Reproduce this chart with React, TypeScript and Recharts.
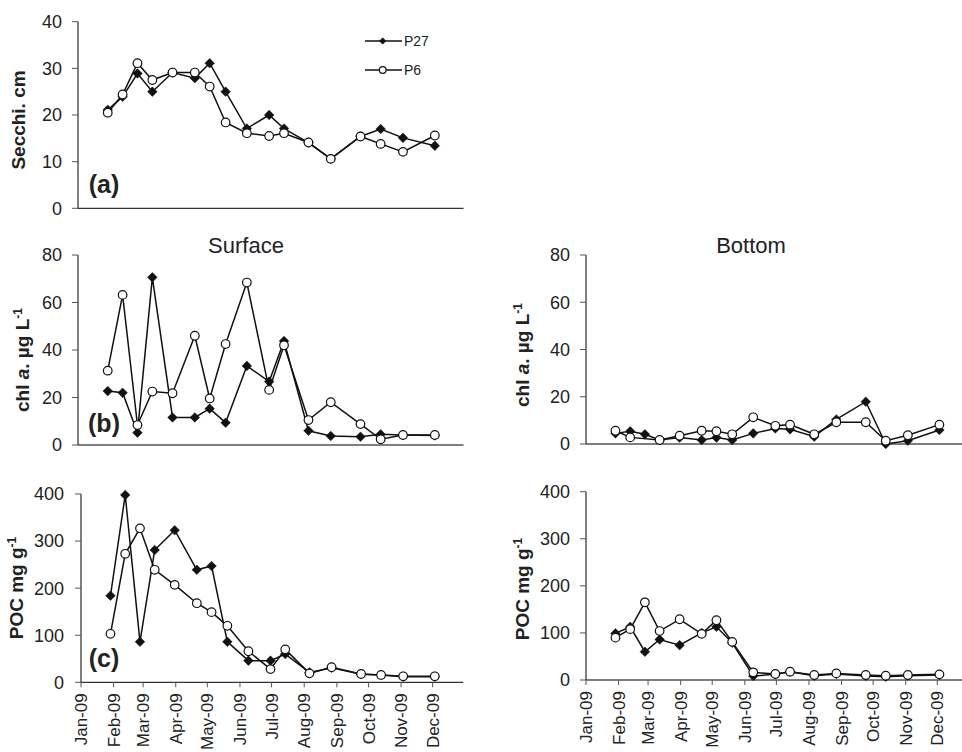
import React from "react";
import { LineChart, Line, XAxis, YAxis, Legend } from "recharts";

// sampling dates as day-of-year 2009 (0 = 1 Jan)
const SAMPLE_DAYS = [28, 42, 56, 70, 89, 110, 124, 139, 159, 180, 194, 217, 238, 266, 285, 306, 336];
const MONTH_TICKS = [0, 31, 59, 90, 120, 151, 181, 212, 243, 273, 304, 334];
const MONTH_LABELS = [
  "Jan-09", "Feb-09", "Mar-09", "Apr-09", "May-09", "Jun-09",
  "Jul-09", "Aug-09", "Sep-09", "Oct-09", "Nov-09", "Dec-09",
];

const SECCHI_TICKS = [0, 10, 20, 30, 40];
const CHL_TICKS = [0, 20, 40, 60, 80];
const POC_TICKS = [0, 100, 200, 300, 400];

const secchiP27 = [21.1, 23.9, 28.9, 25, 29.1, 27.9, 31.1, 25, 17.1, 20, 17.1, 14.1, 10.6, 15.4, 17, 15.1, 13.4];
const secchiP6 = [20.5, 24.4, 31.1, 27.5, 29.1, 29.1, 26.1, 18.4, 16.1, 15.5, 16.1, 14.1, 10.6, 15.4, 13.8, 12.1, 15.6];

const chlSurfP27 = [22.7, 22, 5.2, 70.6, 11.6, 11.6, 15.3, 9.4, 33.3, 26.7, 43.8, 6, 3.8, 3.5, 4.5, 4.2, 4];
const chlSurfP6 = [31.3, 63.2, 8.4, 22.5, 21.8, 46, 19.6, 42.5, 68.4, 23.2, 42, 10.5, 18, 8.8, 2.4, 4.2, 4.2];

const chlBotP27 = [4.5, 5.4, 4.1, 1.7, 2.7, 1.7, 2.7, 1.7, 4.5, 6.6, 6.2, 3.1, 10.4, 17.9, 0, 1.4, 5.9];
const chlBotP6 = [5.6, 2.8, null, 1.7, 3.5, 5.6, 5.4, 4.1, 11.3, 7.7, 8.2, 4.1, 9.2, 9.2, 1.4, 3.7, 8.2];

const pocSurfP27 = [184, 398, 86, 281, 323, 239, 247, 86, 46, 46, 60, 21, 31, 17, 15.6, 12, 12];
const pocSurfP6 = [103, 273, 327, 239, 207, 168, 149, 120, 66, 28, 70, 19, 32, 17.7, 15.6, 12.7, 12.7];

const pocBotP27 = [99, 113, 60, 86, 74, 100, 113, 79, 8.5, 12, 17.7, 9, 12.7, 8.5, 7, 9, 10.6];
const pocBotP6 = [90, 108, 165, 104, 129, 98, 127, 81, 16.3, 12.7, 17.7, 10.6, 14, 10.6, 9, 10.6, 12];

const FONT = '"Liberation Sans", Arial, Helvetica, sans-serif';
const INK = "#111";
const TEXT = "#222";

function DiamondDot(props: any) {
  const { cx, cy } = props;
  if (cx == null || cy == null || props.value == null) return <g />;
  const s = 4.8;
  return (
    <path
      d={`M${cx},${cy - s}L${cx + s},${cy}L${cx},${cy + s}L${cx - s},${cy}Z`}
      fill={INK}
      stroke={INK}
      strokeWidth={0.5}
    />
  );
}

function MonthTick(props: any) {
  const { x, y, payload } = props;
  const label = MONTH_LABELS[MONTH_TICKS.indexOf(payload.value)];
  return (
    <text
      x={x}
      y={y}
      dy="0.36em"
      textAnchor="end"
      transform={`rotate(-90, ${x}, ${y})`}
      fontSize={17}
      fill={TEXT}
    >
      {label}
    </text>
  );
}

function LegendBox() {
  const rows = [
    { y: 13, name: "P27", diamond: true },
    { y: 42, name: "P6", diamond: false },
  ];
  return (
    <svg width={90} height={56} style={{ fontFamily: FONT }}>
      {rows.map((r) => (
        <g key={r.name}>
          <line x1={5} x2={42} y1={r.y} y2={r.y} stroke={INK} strokeWidth={1.5} />
          {r.diamond ? (
            <path d={`M22.7,${r.y - 3.6}L26.3,${r.y}L22.7,${r.y + 3.6}L19.1,${r.y}Z`} fill={INK} />
          ) : (
            <circle cx={22.7} cy={r.y} r={3.4} fill="#fff" stroke={INK} strokeWidth={1.2} />
          )}
          <text x={44} y={r.y} dy="0.36em" fontSize={14} fill={TEXT}>
            {r.name}
          </text>
        </g>
      ))}
    </svg>
  );
}

type PanelProps = {
  left: number;
  top: number;
  width: number;
  height: number;
  margin: { top: number; right: number; bottom: number; left: number };
  yWidth: number;
  xHeight: number;
  yTicks: number[];
  yTickMargin: number;
  p27: (number | null)[];
  p6: (number | null)[];
  showMonths: boolean;
  children?: React.ReactNode;
};

function Panel(p: PanelProps) {
  const data = SAMPLE_DAYS.map((day, i) => ({ day, p27: p.p27[i], p6: p.p6[i] }));
  return (
    <div style={{ position: "absolute", left: p.left, top: p.top }}>
      <LineChart width={p.width} height={p.height} data={data} margin={p.margin}>
        <XAxis
          dataKey="day"
          type="number"
          domain={[0, 363]}
          ticks={MONTH_TICKS}
          interval={0}
          allowDataOverflow
          height={p.xHeight}
          tickSize={5}
          tickMargin={6}
          tick={p.showMonths ? <MonthTick /> : false}
          axisLine={{ stroke: "#000" }}
          tickLine={{ stroke: "#555" }}
        />
        <YAxis
          type="number"
          domain={[0, p.yTicks[p.yTicks.length - 1]]}
          ticks={p.yTicks}
          interval={0}
          width={p.yWidth}
          tickSize={6}
          tickMargin={p.yTickMargin}
          tick={{ fontSize: 18, fill: TEXT }}
          axisLine={{ stroke: "#000" }}
          tickLine={{ stroke: "#555" }}
        />
        <Line
          dataKey="p27"
          type="linear"
          stroke={INK}
          strokeWidth={1.5}
          dot={<DiamondDot />}
          activeDot={false}
          connectNulls
          isAnimationActive={false}
        />
        <Line
          dataKey="p6"
          type="linear"
          stroke={INK}
          strokeWidth={1.5}
          dot={{ r: 4.3, fill: "#fff", stroke: INK, strokeWidth: 1.2 }}
          activeDot={false}
          connectNulls
          isAnimationActive={false}
        />
        {p.children}
      </LineChart>
    </div>
  );
}

function VLabel({ x, y, children }: { x: number; y: number; children: React.ReactNode }) {
  return (
    <text
      x={x}
      y={y}
      textAnchor="middle"
      transform={`rotate(-90, ${x}, ${y})`}
      fontSize={19}
      fontWeight="bold"
      fill={TEXT}
    >
      {children}
    </text>
  );
}

function Tag({ x, y, label }: { x: number; y: number; label: string }) {
  return (
    <text x={x} y={y} textAnchor="middle" fontSize={25} fontWeight="bold" fill={TEXT}>
      {label}
    </text>
  );
}

function Title({ x, y, label }: { x: number; y: number; label: string }) {
  return (
    <text x={x} y={y} textAnchor="middle" fontSize={22} fill={TEXT}>
      {label}
    </text>
  );
}

const chlText = (
  <>
    <tspan>chl </tspan>
    <tspan fontStyle="italic">a</tspan>
    <tspan>. µg L</tspan>
    <tspan dy={-7} fontSize={12}>-1</tspan>
  </>
);

const pocText = (
  <>
    <tspan>POC mg g</tspan>
    <tspan dy={-7} fontSize={12}>-1</tspan>
  </>
);

export default function App() {
  return (
    <div
      style={{
        position: "absolute",
        left: 0,
        top: 0,
        width: 962,
        height: 752,
        overflow: "hidden",
        background: "#fff",
        fontFamily: FONT,
      }}
    >
      {/* (a) Secchi */}
      <Panel
        left={0}
        top={0}
        width={470}
        height={228.3}
        margin={{ top: 21.7, right: 6.5, bottom: 0, left: 0 }}
        yWidth={78}
        xHeight={20}
        yTicks={SECCHI_TICKS}
        yTickMargin={10}
        p27={secchiP27}
        p6={secchiP6}
        showMonths={false}
      >
        <VLabel x={25} y={120}>Secchi. cm</VLabel>
        <Tag x={104} y={193} label="(a)" />
        <Legend
          layout="vertical"
          align="center"
          verticalAlign="middle"
          wrapperStyle={{ left: 360, top: 28, width: 90, height: 56 }}
          content={() => <LegendBox />}
        />
      </Panel>

      {/* (b) chl a surface */}
      <Panel
        left={0}
        top={230}
        width={470}
        height={235}
        margin={{ top: 25, right: 6.5, bottom: 0, left: 0 }}
        yWidth={78}
        xHeight={20}
        yTicks={CHL_TICKS}
        yTickMargin={10}
        p27={chlSurfP27}
        p6={chlSurfP6}
        showMonths={false}
      >
        <Title x={246} y={23} label="Surface" />
        <VLabel x={29} y={130}>{chlText}</VLabel>
        <Tag x={104} y={202} label="(b)" />
      </Panel>

      {/* chl a bottom */}
      <Panel
        left={480}
        top={230}
        width={490}
        height={234}
        margin={{ top: 25, right: 2.2, bottom: 0, left: 0 }}
        yWidth={106}
        xHeight={20}
        yTicks={CHL_TICKS}
        yTickMargin={10}
        p27={chlBotP27}
        p6={chlBotP6}
        showMonths={false}
      >
        <Title x={271} y={23} label="Bottom" />
        <VLabel x={49} y={125}>{chlText}</VLabel>
      </Panel>

      {/* (c) POC surface */}
      <Panel
        left={0}
        top={470}
        width={470}
        height={282}
        margin={{ top: 24, right: 6.8, bottom: 0, left: 0 }}
        yWidth={81}
        xHeight={69.7}
        yTicks={POC_TICKS}
        yTickMargin={11}
        p27={pocSurfP27}
        p6={pocSurfP6}
        showMonths
      >
        <VLabel x={23} y={118}>{pocText}</VLabel>
        <Tag x={104} y={197} label="(c)" />
      </Panel>

      {/* POC bottom */}
      <Panel
        left={480}
        top={470}
        width={490}
        height={282}
        margin={{ top: 21.7, right: 2.2, bottom: 0, left: 0 }}
        yWidth={106}
        xHeight={72}
        yTicks={POC_TICKS}
        yTickMargin={10}
        p27={pocBotP27}
        p6={pocBotP6}
        showMonths
      >
        <VLabel x={49} y={119}>{pocText}</VLabel>
      </Panel>
    </div>
  );
}
